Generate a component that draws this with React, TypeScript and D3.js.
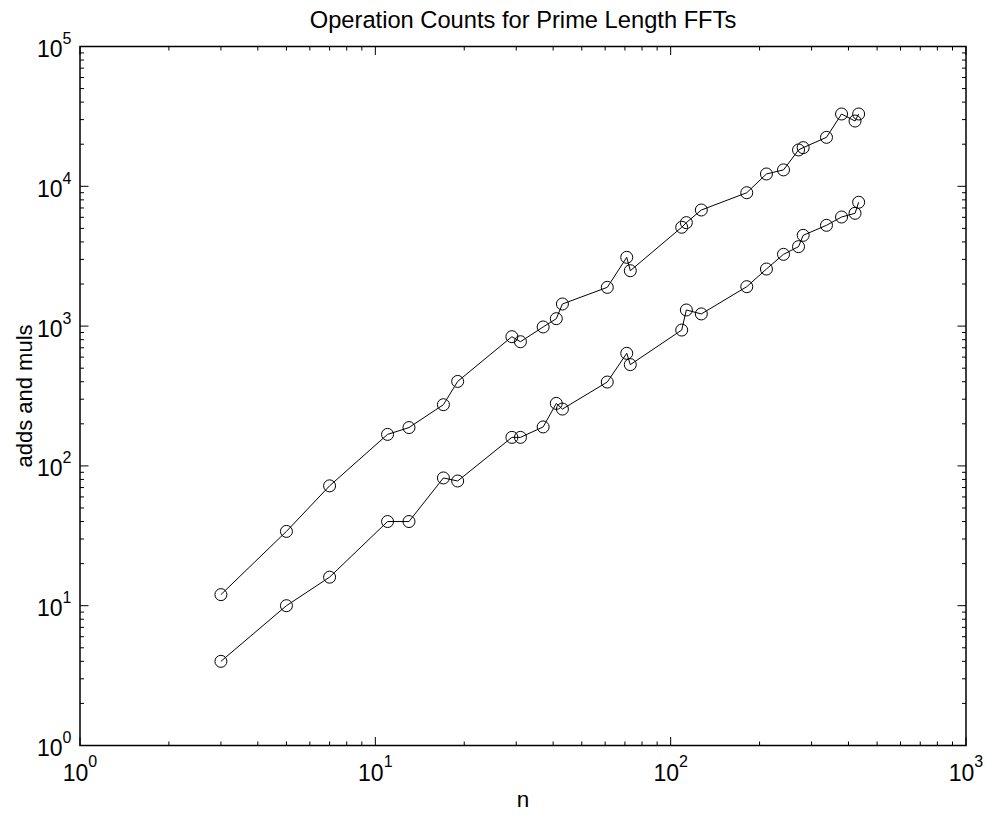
import React from "react";
import * as d3 from "d3";

const primeLengths = [3, 5, 7, 11, 13, 17, 19, 29, 31, 37, 41, 43, 61, 71, 73, 109, 113, 127, 181, 211, 241, 271, 281, 337, 379, 421, 433];
const upperCounts = [12, 34, 72, 168, 188, 274, 402, 840, 773, 986, 1130, 1439, 1893, 3104, 2490, 5093, 5495, 6768, 8995, 12250, 13100, 18200, 18900, 22400, 32900, 29300, 32900];
const lowerCounts = [4, 10, 16, 40, 40, 82, 78, 160, 160, 190, 280, 255, 398, 639, 530, 937, 1304, 1222, 1914, 2560, 3260, 3700, 4460, 5260, 6030, 6410, 7690];
const xTickExponents = [0, 1, 2, 3];
const yTickExponents = [0, 1, 2, 3, 4, 5];
const titleText = "Operation Counts for Prime Length FFTs";
const xLabelText = "n";
const yLabelText = "adds and muls";

const W = 987;
const H = 816;
const L = 80, R = 966, T = 46.5, B = 745.5;
const FONT = "'Liberation Sans', Arial, Helvetica, sans-serif";

export default function App() {
  const x = d3.scaleLog().domain([1, 1000]).range([L, R]);
  const y = d3.scaleLog().domain([1, 100000]).range([B, T]);
  const xt = x.ticks();
  const yt = y.ticks();
  const isMajor = (v: number) => Math.abs(Math.log10(v) - Math.round(Math.log10(v))) < 1e-9;
  const line = d3
    .line<[number, number]>()
    .x((d) => x(d[0]))
    .y((d) => y(d[1]));
  const series = [upperCounts, lowerCounts].map((vals) => primeLengths.map((n, i) => [n, vals[i]] as [number, number]));
  const MAJ = 8.5, MIN = 4;

  return (
    <svg width={W} height={H} style={{ position: "absolute", left: 0, top: 0, background: "#fff" }} fontFamily={FONT}>
      <rect x={0} y={0} width={W} height={H} fill="#fff" />
      <g stroke="#000" strokeWidth={1}>
        {xt.map((v, i) => {
          const len = isMajor(v) ? MAJ : MIN;
          const px = x(v);
          return (
            <g key={"xt" + i}>
              <line x1={px} x2={px} y1={B} y2={B - len} />
              <line x1={px} x2={px} y1={T} y2={T + len} />
            </g>
          );
        })}
        {yt.map((v, i) => {
          const len = isMajor(v) ? MAJ : MIN;
          const py = y(v);
          return (
            <g key={"yt" + i}>
              <line x1={L} x2={L + len} y1={py} y2={py} />
              <line x1={R} x2={R - len} y1={py} y2={py} />
            </g>
          );
        })}
      </g>
      <rect x={L} y={T} width={R - L} height={B - T} fill="none" stroke="#000" strokeWidth={1.5} />
      {series.map((s, si) => (
        <g key={"s" + si}>
          <path d={line(s) || ""} fill="none" stroke="#000" strokeWidth={1} />
          {s.map((d, i) => (
            <circle key={i} cx={x(d[0])} cy={y(d[1])} r={6} fill="none" stroke="#000" strokeWidth={1} />
          ))}
        </g>
      ))}
      {xTickExponents.map((e) => (
        <text key={"xl" + e} x={x(Math.pow(10, e))} y={781} textAnchor="middle" fontSize={23} fill="#000">
          <tspan>10</tspan>
          <tspan dy={-14} fontSize={16}>{e}</tspan>
        </text>
      ))}
      {yTickExponents.map((e) => (
        <text key={"yl" + e} x={37} y={y(Math.pow(10, e)) + 10.5} textAnchor="start" fontSize={23} fill="#000">
          <tspan>10</tspan>
          <tspan dy={-13} fontSize={16}>{e}</tspan>
        </text>
      ))}
      <text x={(L + R) / 2} y={28} textAnchor="middle" fontSize={23.7} fill="#000">{titleText}</text>
      <text x={(L + R) / 2} y={807} textAnchor="middle" fontSize={22.5} fill="#000">{xLabelText}</text>
      <text transform={`translate(32, ${(T + B) / 2}) rotate(-90)`} textAnchor="middle" fontSize={22} fill="#000">{yLabelText}</text>
    </svg>
  );
}
